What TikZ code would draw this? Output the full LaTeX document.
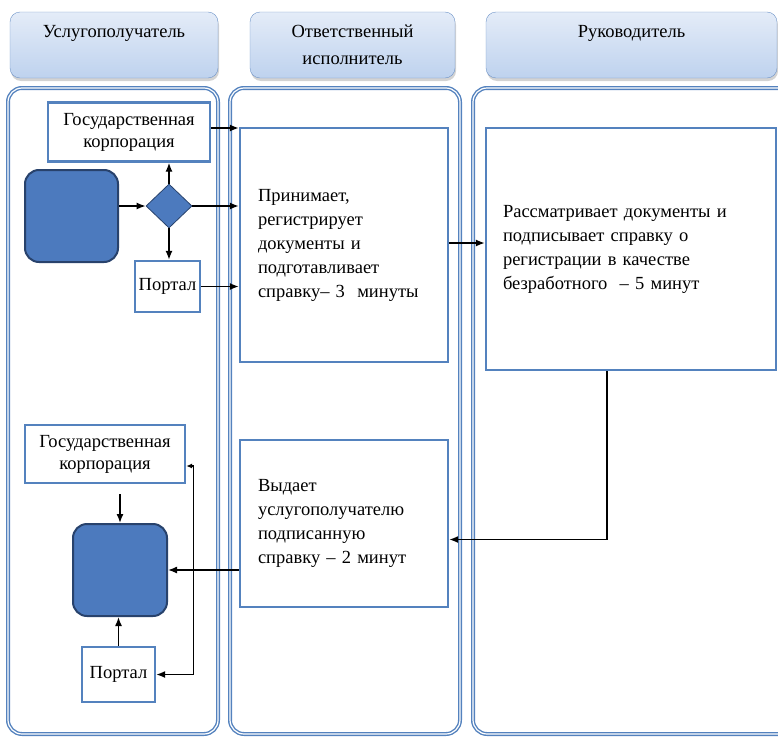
\documentclass[tikz,border=0pt]{standalone}
\usepackage{fontspec}
\setmainfont{Liberation Serif}
\usetikzlibrary{arrows,arrows.meta,shapes.geometric,shadows}

\definecolor{laneblue}{RGB}{84,130,190}
\definecolor{hdrline}{RGB}{110,148,200}
\definecolor{hdrtop}{RGB}{228,236,248}
\definecolor{hdrbot}{RGB}{190,210,238}
\definecolor{stepfill}{RGB}{76,122,190}
\definecolor{stepline}{RGB}{40,66,108}

\begin{document}
\begin{tikzpicture}[x=1pt,y=-1pt,>={Latex[length=9pt,width=7pt]},
	hdr/.style={draw=hdrline,rounded corners=10pt,top color=hdrtop,bottom color=hdrbot,
		drop shadow={shadow xshift=1pt,shadow yshift=-3pt,opacity=.35},
		align=center,inner sep=0pt,font=\fontsize{18.5}{27}\selectfont},
	lane/.style={draw=laneblue,double=white,double distance=1.2pt,line width=1.4pt,rounded corners=14pt},
	box/.style={draw=laneblue,line width=2.4pt,fill=white,font=\fontsize{18.5}{24}\selectfont},
	smallbox/.style={box,align=center,inner sep=0pt,font=\fontsize{18.5}{22}\selectfont},
	procbox/.style={box,align=left,inner xsep=18pt,inner ysep=0pt},
	term/.style={draw=stepline,fill=stepfill,line width=2pt,rounded corners=14pt},
	dia/.style={diamond,draw=stepline,fill=stepfill,line width=.8pt,inner sep=0pt,
		minimum width=46pt,minimum height=44pt},
	flow/.style={->,line width=1.4pt}]

	\useasboundingbox (0,0) rectangle (778,736);
	\clip (0,0) rectangle (778,736);

	% headers
	\node[hdr,minimum width=208pt,minimum height=66pt] (h1) at (114,45) {Услугополучатель\\\mbox{}};
	\node[hdr,minimum width=205pt,minimum height=66pt] (h2) at (352.5,45) {Ответственный\\исполнитель};
	\node[hdr,minimum width=291pt,minimum height=66pt] (h3) at (631.5,45) {Руководитель\\\mbox{}};

	% lanes
	\draw[lane] (8,88) rectangle (218,734);
	\draw[lane] (230,88) rectangle (460,734);
	\draw[lane] (473,88) rectangle (820,734);

	% upper part
	\node[smallbox,minimum width=162pt,minimum height=59pt] (gk1) at (129,132) {Государственная\\корпорация};
	\node[term,minimum width=93pt,minimum height=92pt] (start) at (71.5,216) {};
	\node[dia] (choice) at (169,206) {};
	\node[smallbox,minimum width=65pt,minimum height=51pt] (portal1) at (167.5,286.5) {Портал};

	\node[procbox,text width=172pt,minimum height=234pt] (procA) at (344,245)
		{Принимает,\\регистрирует\\документы и\\подготавливает\\справку– 3\ \ минуты};
	\node[procbox,inner xsep=17pt,text width=256pt,minimum height=242pt] (procB) at (631,249)
		{Рассматривает документы и\\подписывает справку о\\регистрации в качестве\\безработного\ \ – 5 минут};

	% lower part
	\node[procbox,text width=172pt,minimum height=167pt] (procC) at (344,523.5)
		{Выдает\\услугополучателю\\подписанную\\справку – 2 минут};
	\node[smallbox,minimum width=160pt,minimum height=58pt] (gk2) at (105,454) {Государственная\\корпорация};
	\node[term,minimum width=94pt,minimum height=92pt] (finish) at (120,570) {};
	\node[smallbox,minimum width=73pt,minimum height=55pt] (portal2) at (118.5,674.5) {Портал};

	% connectors
	\draw[flow] (start.east |- choice.west) -- (choice.west);
	\draw[flow] (choice.north) -- (choice.north |- gk1.south);
	\draw[flow] (choice.south) -- (choice.south |- portal1.north);
	\draw[flow] ([yshift=4pt]gk1.east) -- ([yshift=4pt]gk1.east -| procA.west);
	\draw[flow] (choice.east) -- (choice.east -| procA.west);
	\draw[flow] (portal1.east) -- (portal1.east -| procA.west);
	\draw[flow] (procA.east |- 0,243) -- (procB.west |- 0,243);
	\draw[flow] ([xshift=-24pt]procB.south) |- ([yshift=-16pt]procC.east);
	\draw[flow] (procC.west |- finish.east) -- (finish.east);
	\draw[flow,shorten <=10pt] (finish.north |- gk2.south) -- (finish.north);
	\draw[flow] (portal2.north) -- (portal2.north |- finish.south);
	\draw[{Latex[length=6pt,width=5pt]}-{Latex[length=9pt,width=7pt]},line width=1.4pt]
		([yshift=-12pt]gk2.east) -- ++(7,0) |- (portal2.east);
\end{tikzpicture}
\end{document}
